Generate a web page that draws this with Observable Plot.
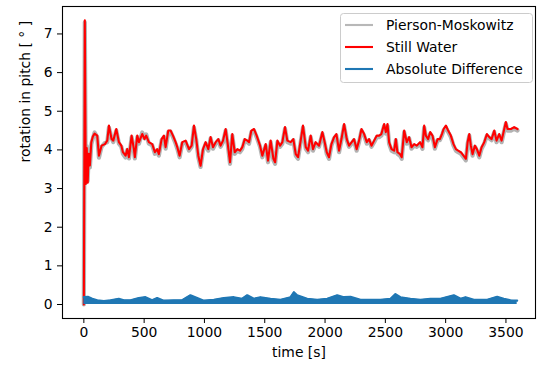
<!DOCTYPE html>
<html>
<head>
<meta charset="utf-8">
<script src="https://cdn.jsdelivr.net/npm/d3@7"></script>
<script src="https://cdn.jsdelivr.net/npm/@observablehq/plot@0.6"></script>
<style>
  html, body { margin: 0; padding: 0; background: white; }
  #chart { width: 542px; height: 370px; }
</style>
</head>
<body>
<div id="chart"></div>
<script>
// ---- data ----
const seriesNames = ["Pierson-Moskowitz", "Still Water", "Absolute Difference"];
const xTicks = [0, 500, 1000, 1500, 2000, 2500, 3000, 3500];
const yTicks = [0, 1, 2, 3, 4, 5, 6, 7];

const swTime = [0, 8, 16, 24, 32, 40, 50, 62, 75, 89, 111, 125, 147, 175, 194, 208, 230, 244, 269, 291, 311, 324, 346, 360, 374, 396, 415, 423, 443, 457, 484, 503, 517, 539, 567, 589, 608, 622, 645, 664, 678, 700, 719, 739, 761, 775, 794, 816, 844, 872, 894, 913, 932, 949, 968, 988, 1010, 1032, 1051, 1071, 1093, 1115, 1134, 1154, 1176, 1195, 1212, 1231, 1251, 1273, 1295, 1314, 1334, 1356, 1370, 1389, 1411, 1433, 1461, 1480, 1508, 1527, 1549, 1572, 1586, 1605, 1627, 1646, 1668, 1687, 1715, 1737, 1757, 1776, 1798, 1817, 1840, 1859, 1881, 1900, 1922, 1950, 1978, 1997, 2014, 2033, 2053, 2075, 2094, 2116, 2136, 2158, 2180, 2199, 2221, 2240, 2262, 2282, 2302, 2324, 2346, 2365, 2385, 2407, 2429, 2448, 2467, 2490, 2504, 2518, 2531, 2551, 2573, 2587, 2600, 2622, 2636, 2656, 2678, 2697, 2717, 2739, 2761, 2788, 2808, 2822, 2836, 2855, 2872, 2891, 2911, 2933, 2952, 2969, 2983, 3002, 3021, 3043, 3065, 3085, 3104, 3126, 3148, 3168, 3182, 3196, 3209, 3223, 3243, 3259, 3279, 3298, 3320, 3342, 3362, 3381, 3403, 3422, 3444, 3464, 3486, 3499, 3513, 3541, 3568, 3596];

const stillWater = [0, 7.35, 3.12, 4.05, 3.15, 3.9, 3.6, 4.2, 4.35, 4.42, 4.37, 3.85, 4.11, 4.15, 4.24, 4.63, 4.28, 4.24, 4.54, 4.20, 4.11, 3.94, 3.85, 4.02, 3.81, 4.37, 4.02, 3.81, 4.37, 4.20, 4.41, 4.28, 4.37, 4.20, 4.15, 3.94, 4.02, 3.89, 4.28, 4.37, 4.07, 4.50, 4.50, 4.37, 4.20, 4.07, 3.85, 4.20, 4.24, 4.02, 4.11, 4.63, 4.28, 3.85, 3.59, 4.02, 4.20, 4.02, 4.33, 4.07, 4.20, 4.28, 4.11, 4.24, 4.54, 4.11, 3.68, 4.41, 3.94, 4.02, 3.98, 4.07, 4.28, 4.24, 4.20, 4.50, 4.54, 4.37, 4.11, 3.85, 4.15, 3.72, 4.24, 3.77, 3.68, 4.24, 4.11, 4.20, 4.59, 4.24, 4.20, 4.28, 3.89, 3.81, 4.24, 4.63, 4.07, 3.98, 4.37, 4.02, 4.20, 4.11, 4.46, 4.20, 3.94, 3.81, 4.15, 4.33, 4.41, 3.98, 4.28, 4.67, 4.28, 4.11, 4.20, 4.28, 4.02, 4.24, 4.54, 4.41, 4.20, 4.28, 4.11, 4.24, 4.37, 4.37, 4.41, 4.67, 4.46, 4.67, 4.20, 4.02, 3.98, 4.28, 3.94, 3.89, 3.81, 4.50, 4.20, 4.33, 4.07, 4.15, 4.11, 4.20, 4.07, 4.63, 4.37, 4.28, 4.46, 4.37, 4.07, 4.28, 4.28, 4.41, 4.54, 4.63, 4.50, 4.37, 4.15, 4.02, 3.98, 3.94, 3.85, 3.77, 4.20, 4.41, 4.11, 3.89, 4.11, 4.02, 3.85, 4.07, 4.20, 4.41, 4.33, 4.28, 4.50, 4.24, 4.41, 4.24, 4.54, 4.72, 4.54, 4.54, 4.59, 4.54];

const piersonMoskowitz = [0, 7.30, 3.15, 4.10, 3.20, 3.95, 3.55, 4.15, 4.30, 4.45, 4.33, 3.80, 4.08, 4.18, 4.20, 4.58, 4.30, 4.20, 4.50, 4.16, 4.08, 3.90, 3.80, 4.00, 3.78, 4.33, 3.98, 3.78, 4.33, 4.16, 4.45, 4.30, 4.40, 4.16, 4.12, 3.90, 3.98, 3.85, 4.25, 4.33, 4.03, 4.46, 4.47, 4.33, 4.16, 4.03, 3.81, 4.16, 4.20, 3.98, 4.08, 4.58, 4.25, 3.81, 3.56, 3.98, 4.16, 3.98, 4.30, 4.03, 4.16, 4.25, 4.08, 4.20, 4.50, 4.08, 3.64, 4.37, 3.90, 3.98, 3.94, 4.03, 4.25, 4.20, 4.16, 4.46, 4.50, 4.33, 4.08, 3.81, 4.11, 3.68, 4.20, 3.73, 3.64, 4.20, 4.08, 4.16, 4.55, 4.20, 4.16, 4.25, 3.85, 3.77, 4.20, 4.58, 4.03, 3.94, 4.33, 3.98, 4.16, 4.08, 4.42, 4.16, 3.90, 3.77, 4.11, 4.30, 4.37, 3.94, 4.25, 4.62, 4.25, 4.08, 4.16, 4.25, 3.98, 4.20, 4.50, 4.37, 4.16, 4.25, 4.08, 4.20, 4.33, 4.33, 4.37, 4.62, 4.42, 4.62, 4.16, 3.98, 3.94, 4.25, 3.90, 3.85, 3.77, 4.46, 4.16, 4.30, 4.03, 4.11, 4.08, 4.16, 4.03, 4.58, 4.33, 4.25, 4.42, 4.33, 4.03, 4.25, 4.25, 4.37, 4.50, 4.58, 4.46, 4.33, 4.11, 3.98, 3.94, 3.90, 3.81, 3.73, 4.16, 4.37, 4.08, 3.85, 4.08, 3.98, 3.81, 4.03, 4.16, 4.37, 4.30, 4.25, 4.46, 4.20, 4.37, 4.20, 4.50, 4.68, 4.50, 4.50, 4.55, 4.50];

const diffTime = [0, 33, 70, 111, 166, 221, 290, 332, 387, 456, 511, 566, 608, 663, 746, 815, 884, 940, 995, 1078, 1161, 1244, 1313, 1355, 1410, 1465, 1548, 1631, 1714, 1742, 1769, 1852, 1935, 2018, 2101, 2156, 2211, 2294, 2377, 2460, 2543, 2584, 2625, 2708, 2791, 2874, 2957, 3068, 3124, 3165, 3234, 3345, 3427, 3482, 3537, 3593];
const absDifference = [0.19, 0.20, 0.15, 0.11, 0.09, 0.11, 0.15, 0.11, 0.11, 0.17, 0.19, 0.11, 0.17, 0.10, 0.11, 0.11, 0.24, 0.17, 0.10, 0.12, 0.17, 0.19, 0.15, 0.24, 0.15, 0.19, 0.15, 0.12, 0.19, 0.32, 0.24, 0.15, 0.12, 0.15, 0.24, 0.19, 0.20, 0.12, 0.12, 0.12, 0.15, 0.27, 0.19, 0.15, 0.12, 0.15, 0.15, 0.24, 0.15, 0.19, 0.12, 0.12, 0.20, 0.15, 0.11, 0.10];

const colors = ["#9a9a9a", "#ff0000", "#1f77b4"];

// ---- tables built from the arrays ----
const swData = swTime.map((t, i) => ({t, v: stillWater[i]}));
const pmData = swTime.map((t, i) => ({t, v: piersonMoskowitz[i]}));
const diffData = diffTime.map((t, i) => ({t, v: absDifference[i]}));

function legend() {
  return () => {
    const g = d3.create("svg:g")
      .attr("font-family", "DejaVu Sans, sans-serif")
      .attr("font-size", "13.9px")
      .attr("text-anchor", "start");
    g.append("rect")
      .attr("x", 340.5).attr("y", 13.5)
      .attr("width", 192).attr("height", 69)
      .attr("rx", 3)
      .attr("fill", "white").attr("fill-opacity", 0.8)
      .attr("stroke", "#cccccc");
    const rows = [
      {name: seriesNames[0], color: colors[0], op: 0.7},
      {name: seriesNames[1], color: colors[1], op: 1},
      {name: seriesNames[2], color: colors[2], op: 1}
    ];
    rows.forEach((r, i) => {
      const y = 25 + i * 22;
      g.append("line")
        .attr("x1", 345).attr("x2", 373).attr("y1", y).attr("y2", y)
        .attr("stroke", r.color).attr("stroke-opacity", r.op)
        .attr("stroke-width", 2.1);
      g.append("text")
        .attr("x", 386).attr("y", y).attr("dy", "0.35em")
        .attr("text-anchor", "start")
        .attr("fill", "#000")
        .text(r.name);
    });
    return g.node();
  };
}

const chart = Plot.plot({
  width: 542,
  height: 370,
  marginLeft: 62,
  marginRight: 7,
  marginTop: 6,
  marginBottom: 52,
  style: {fontFamily: "DejaVu Sans, sans-serif", fontSize: "13.9px", background: "white", color: "black", overflow: "visible"},
  x: {domain: [-177, 3745], ticks: xTicks, tickFormat: d => String(d), tickSize: 5, tickPadding: 4, label: null},
  y: {domain: [-0.362, 7.71], ticks: yTicks, tickFormat: d => String(d), tickSize: 5, tickPadding: 5, label: null},
  marks: [
    Plot.line(pmData, {x: "t", y: "v", stroke: colors[0], strokeOpacity: 0.75, strokeWidth: 4.2}),
    Plot.line(swData, {x: "t", y: "v", stroke: colors[1], strokeWidth: 2.1}),
    Plot.areaY(diffData, {x: "t", y: "v", fill: colors[2]}),
    Plot.line(diffData, {x: "t", y: "v", stroke: colors[2], strokeWidth: 2.1}),
    Plot.frame({stroke: "black", strokeWidth: 1.1}),
    Plot.text(["time [s]"], {frameAnchor: "bottom", dy: 38, fill: "black"}),
    Plot.text(["rotation in pitch [ ° ]"], {frameAnchor: "left", dx: -37, rotate: -90, fill: "black"}),
    legend()
  ]
});
document.getElementById("chart").appendChild(chart);
</script>
</body>
</html>
